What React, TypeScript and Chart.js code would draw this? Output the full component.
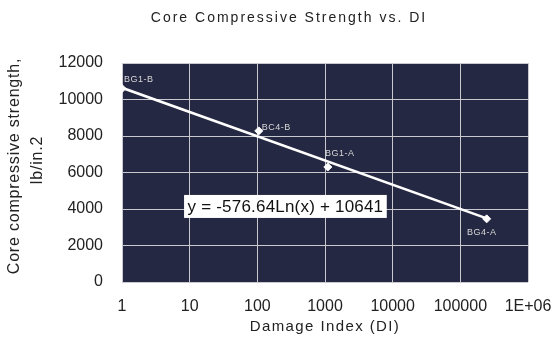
import React, { useEffect, useRef } from "react";
import { Chart, registerables } from "chart.js";

Chart.register(...registerables);

const sampleNames = ["BG1-B", "BC4-B", "BG1-A", "BG4-A"];
const damageIndex = [1, 105, 1100, 245000];
const strength = [10600, 8280, 6300, 3460];

const trendX = [1, 245000];
const trendY = [10641, 3484];
const equationText = "y = -576.64Ln(x) + 10641";

const xTickValues = [1, 10, 100, 1000, 10000, 100000, 1000000];
const xTickLabels = ["1", "10", "100", "1000", "10000", "100000", "1E+06"];

const titleText = "Core Compressive Strength vs. DI";
const xTitle = "Damage Index (DI)";
const yTitleLines = ["Core compressive strength,", "lb/in.2"];

const FONT = "'Liberation Sans', Arial, sans-serif";

const overlayPlugin = {
  id: "overlay",
  beforeDraw(chart: any) {
    const { ctx, chartArea } = chart;
    ctx.save();
    ctx.fillStyle = "#ffffff";
    ctx.fillRect(0, 0, chart.width, chart.height);
    ctx.fillStyle = "#242842";
    ctx.fillRect(chartArea.left, chartArea.top, chartArea.right - chartArea.left, chartArea.bottom - chartArea.top);
    ctx.restore();
  },
  afterDraw(chart: any) {
    const { ctx, chartArea, scales } = chart;
    const xs = scales.x;
    const ys = scales.y;
    ctx.save();
    // title
    ctx.fillStyle = "#222";
    ctx.textAlign = "center";
    ctx.textBaseline = "middle";
    ctx.font = `14px ${FONT}`;
    (ctx as any).letterSpacing = "2px";
    ctx.fillText(titleText, 289, 18);
    // x title
    ctx.font = `15px ${FONT}`;
    (ctx as any).letterSpacing = "1.4px";
    ctx.fillText(xTitle, (chartArea.left + chartArea.right) / 2, 327);
    // y title
    ctx.save();
    ctx.font = `16px ${FONT}`;
    (ctx as any).letterSpacing = "0.8px";
    ctx.translate(15, 166);
    ctx.rotate(-Math.PI / 2);
    ctx.fillText(yTitleLines[0], 0, 0);
    ctx.restore();
    ctx.save();
    ctx.font = `16px ${FONT}`;
    (ctx as any).letterSpacing = "0.8px";
    ctx.translate(38, 160);
    ctx.rotate(-Math.PI / 2);
    ctx.fillText(yTitleLines[1], 0, 0);
    ctx.restore();

    // data labels
    (ctx as any).letterSpacing = "0.5px";
    ctx.font = `9px ${FONT}`;
    ctx.fillStyle = "#d8d8d8";
    const offsets = [
      [2, -9, "left"],
      [3, -3, "left"],
      [12, -14, "center"],
      [-5, 14, "center"],
    ];
    sampleNames.forEach((name, i) => {
      const px = xs.getPixelForValue(damageIndex[i]);
      const py = ys.getPixelForValue(strength[i]);
      const [dx, dy, al] = offsets[i] as any;
      ctx.textAlign = al;
      ctx.fillText(name, px + dx, py + dy);
    });

    // equation box
    (ctx as any).letterSpacing = "0.2px";
    ctx.font = `17px ${FONT}`;
    const w = ctx.measureText(equationText).width + 7;
    const h = 23;
    const cx = xs.getPixelForValue(260);
    const cy = ys.getPixelForValue(4140);
    ctx.fillStyle = "#ffffff";
    ctx.fillRect(cx - w / 2, cy - h / 2, w, h);
    ctx.fillStyle = "#111";
    ctx.textAlign = "center";
    ctx.fillText(equationText, cx, cy + 1);
    ctx.restore();
  },
};

export default function App() {
  const ref = useRef<HTMLCanvasElement>(null);
  useEffect(() => {
    document.body.style.margin = "0";
    const chart = new Chart(ref.current!, {
      type: "scatter",
      data: {
        datasets: [
          {
            label: "Trend",
            data: trendX.map((x, i) => ({ x, y: trendY[i] })),
            showLine: true,
            borderColor: "#ffffff",
            borderWidth: 2.5,
            pointRadius: 0,
            order: 2,
          },
          {
            label: "Samples",
            data: damageIndex.map((x, i) => ({ x, y: strength[i] })),
            pointStyle: "rectRot",
            pointRadius: 4,
            backgroundColor: "#ffffff",
            borderColor: "#ffffff",
            order: 1,
          },
        ],
      },
      options: {
        responsive: false,
        animation: false,
        layout: { padding: { top: 63, right: 28, left: 0, bottom: 0 } },
        plugins: { legend: { display: false }, title: { display: false }, tooltip: { enabled: false } },
        scales: {
          x: {
            type: "logarithmic",
            min: 1,
            max: 1000000,
            afterBuildTicks: (scale: any) => {
              scale.ticks = xTickValues.map((v) => ({ value: v }));
            },
            afterFit: (scale: any) => {
              scale.height = 66;
              scale.paddingRight = 0;
              scale.paddingLeft = 0;
            },
            grid: { color: "#c9c9cf", lineWidth: 1, drawTicks: false },
            border: { display: false },
            ticks: {
              padding: 15,
              color: "#222",
              font: { family: FONT, size: 16 },
              autoSkip: false,
              maxRotation: 0,
              callback: (v: any) => {
                const i = xTickValues.indexOf(Number(v));
                return i >= 0 ? xTickLabels[i] : "";
              },
            },
          },
          y: {
            min: 0,
            max: 12000,
            afterFit: (scale: any) => {
              scale.width = 122;
              scale.paddingTop = 0;
              scale.paddingBottom = 0;
            },
            grid: { color: "#c9c9cf", lineWidth: 1, drawTicks: false },
            border: { display: false },
            ticks: {
              stepSize: 2000,
              padding: 19,
              color: "#222",
              font: { family: FONT, size: 16 },
              callback: (v: any) => String(v),
            },
          },
        },
      },
      plugins: [overlayPlugin],
    } as any);
    return () => chart.destroy();
  }, []);
  return (
    <div style={{ width: 556, height: 348 }}>
      <canvas ref={ref} width={556} height={348} />
    </div>
  );
}
